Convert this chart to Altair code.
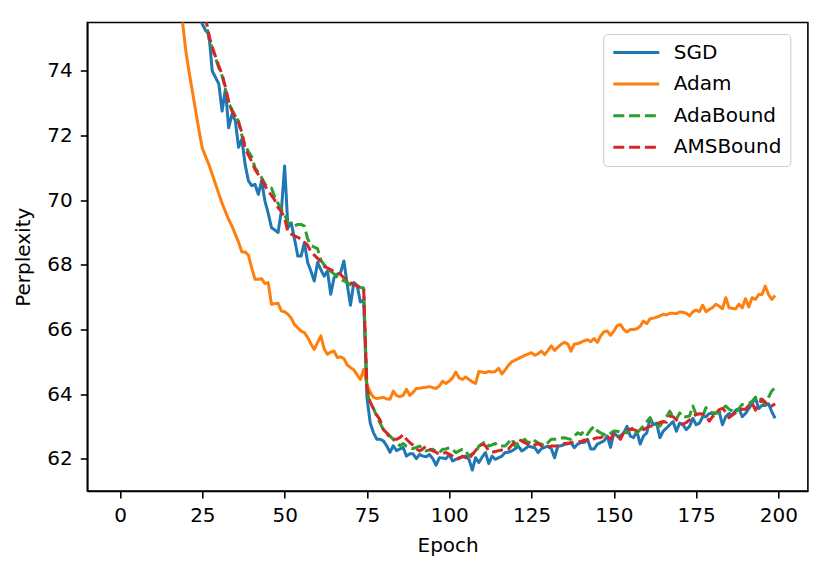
import altair as alt
import pandas as pd

series_names = ["SGD", "Adam", "AdaBound", "AMSBound"]
series_colors = ["#1f77b4", "#ff7f0e", "#2ca02c", "#d62728"]
series_dashes = [[1, 0], [1, 0], [11, 4.8], [11, 4.8]]

x_ticks = [0, 25, 50, 75, 100, 125, 150, 175, 200]
y_ticks = [62, 64, 66, 68, 70, 72, 74]

sgd = [
    178.0, 141.0, 124.0, 113.5, 106.0, 100.5, 96.5, 93.0, 90.2, 88.0,
    86.0, 84.3, 82.8, 81.5, 80.4, 79.4, 78.5, 77.8, 77.2, 76.7,
    76.4, 76.2, 76.0, 75.85, 75.7, 75.45, 75.25, 75.15, 74.0, 73.8,
    73.6, 72.76, 73.43, 72.24, 72.66, 72.47, 71.64, 71.89, 71.1, 70.6,
    70.45, 70.49, 70.18, 70.6, 69.98, 69.6, 69.15, 69.08, 69.0, 69.67,
    71.06, 69.15, 69.3, 68.8, 68.27, 68.27, 68.69, 68.07, 67.8, 67.5,
    68.07, 67.85, 67.65, 67.81, 67.09, 67.6, 67.71, 67.76, 68.12, 67.4,
    66.75, 67.45, 67.37, 66.85, 66.9, 63.9, 63.1, 62.8, 62.6, 62.6,
    62.55, 62.4, 62.2, 62.4, 62.25, 62.3, 62.35, 62.08, 62.15, 62.15,
    62.0, 62.13, 62.08, 62.06, 62.13, 62.0, 61.8, 62.03, 62.02, 62.0,
    62.13, 61.93, 61.98, 62.03, 62.05, 62.08, 61.98, 61.65, 62.03, 61.88,
    62.05, 62.19, 61.85, 62.08, 61.98, 62.03, 62.08, 62.19, 62.2, 62.24,
    62.3, 62.39, 62.24, 62.3, 62.39, 62.36, 62.34, 62.19, 62.31, 62.35,
    62.39, 62.31, 62.03, 62.39, 62.4, 62.44, 62.46, 62.49, 62.34, 62.45,
    62.5, 62.5, 62.6, 62.3, 62.3, 62.45, 62.5, 62.55, 62.7, 62.35,
    62.8, 62.7, 62.7, 62.8, 63.0, 62.7, 62.65, 62.85, 62.45, 62.7,
    62.8, 63.25, 63.05, 63.1, 62.65, 62.85, 62.95, 63.05, 63.15, 62.85,
    63.1, 63.05, 62.9, 63.0, 63.25, 63.05, 63.1, 63.3, 63.3, 63.4,
    63.4, 63.4, 63.45, 63.05, 63.3, 63.4, 63.35, 63.5, 63.55, 63.3,
    63.4, 63.55, 63.7, 63.9, 63.55, 63.65, 63.65, 63.7, 63.45, 63.25,
]

adam = [
    182.0, 131.0, 114.0, 104.5, 98.5, 94.5, 91.2, 88.6, 86.5, 84.8,
    83.3, 82.0, 80.9, 79.9, 79.0, 78.2, 77.5, 76.9, 76.3, 75.5,
    74.6, 73.95, 73.35, 72.75, 72.15, 71.6, 71.35, 71.1, 70.8, 70.5,
    70.2, 69.9, 69.65, 69.4, 69.2, 68.95, 68.7, 68.4, 68.4, 68.3,
    67.9, 67.55, 67.55, 67.57, 67.42, 67.45, 66.78, 66.8, 66.81, 66.57,
    66.55, 66.47, 66.35, 66.15, 66.05, 65.95, 65.9, 65.75, 65.55, 65.38,
    65.6, 65.8, 65.4, 65.23, 65.3, 65.33, 65.13, 65.15, 65.1, 64.9,
    64.82, 64.75, 64.6, 64.45, 64.76, 64.3, 64.05, 63.9, 63.86, 63.88,
    63.9, 63.85, 63.84, 64.09, 63.95, 63.92, 63.96, 64.15, 63.96, 64.05,
    64.17, 64.18, 64.2, 64.21, 64.23, 64.2, 64.17, 64.25, 64.4, 64.33,
    64.4, 64.5, 64.68, 64.5, 64.45, 64.53, 64.45, 64.38, 64.33, 64.7,
    64.68, 64.66, 64.7, 64.68, 64.7, 64.8, 64.62, 64.75, 64.89, 65.0,
    65.05, 65.1, 65.15, 65.2, 65.24, 65.28, 65.2, 65.25, 65.33, 65.22,
    65.35, 65.49, 65.35, 65.45, 65.54, 65.6, 65.55, 65.33, 65.55, 65.56,
    65.6, 65.65, 65.68, 65.62, 65.72, 65.6, 65.8, 65.93, 65.95, 65.82,
    65.95, 66.12, 66.15, 66.0, 65.92, 66.0, 66.0, 66.02, 66.1, 66.26,
    66.18, 66.33, 66.35, 66.38, 66.42, 66.47, 66.45, 66.5, 66.5, 66.49,
    66.54, 66.53, 66.5, 66.42, 66.55, 66.6, 66.55, 66.75, 66.55, 66.62,
    66.68, 66.78, 66.72, 66.64, 66.98, 66.67, 66.65, 66.64, 66.78, 66.67,
    66.95, 66.7, 66.98, 66.93, 67.08, 67.08, 67.34, 67.08, 66.93, 67.05,
]

adabound = [
    190.0, 145.0, 127.0, 116.0, 108.5, 103.0, 98.8, 95.3, 92.4, 90.0,
    88.0, 86.2, 84.6, 83.2, 82.0, 80.9, 79.9, 79.0, 78.3, 77.6,
    77.0, 76.6, 76.3, 76.1, 75.95, 75.8, 75.6, 75.0, 74.7, 74.4,
    74.1, 73.85, 73.45, 73.0, 72.8, 72.6, 72.45, 72.0, 71.7, 71.5,
    71.35, 71.0, 70.85, 70.7, 70.5, 70.4, 70.38, 70.1, 69.9, 69.7,
    69.55, 69.3, 69.25, 69.2, 69.25, 69.25, 69.2, 68.8, 68.6, 68.55,
    68.5, 68.15, 68.0, 67.9, 67.8, 67.72, 67.62, 67.55, 67.5, 67.45,
    67.38, 67.35, 67.33, 67.3, 67.28, 64.1, 63.7, 63.55, 63.3, 63.1,
    62.9, 62.8, 62.7, 62.6, 62.5, 62.4, 62.47, 62.39, 62.35, 62.31,
    62.35, 62.39, 62.3, 62.24, 62.27, 62.29, 62.22, 62.19, 62.29, 62.3,
    62.34, 62.28, 62.19, 62.24, 62.29, 62.24, 62.08, 62.15, 62.19, 62.39,
    62.45, 62.54, 62.39, 62.43, 62.47, 62.39, 62.39, 62.39, 62.5, 62.62,
    62.39, 62.49, 62.55, 62.6, 62.47, 62.6, 62.55, 62.49, 62.45, 62.39,
    62.5, 62.6, 62.6, 62.62, 62.64, 62.65, 62.62, 62.6, 62.7, 62.8,
    62.75, 62.86, 62.75, 62.9, 63.0, 62.86, 62.8, 62.75, 62.7, 62.78,
    62.86, 62.85, 62.83, 62.82, 62.8, 62.9, 62.96, 62.8, 62.9, 63.01,
    63.15, 63.27, 63.06, 63.05, 63.01, 63.16, 63.3, 63.47, 63.3, 63.22,
    63.42, 63.27, 63.3, 63.32, 63.63, 63.37, 63.35, 63.32, 63.58, 63.45,
    63.42, 63.42, 63.42, 63.55, 63.63, 63.53, 63.48, 63.42, 63.55, 63.68,
    63.68, 63.7, 63.78, 63.89, 63.95, 63.78, 63.68, 63.9, 64.1, 64.2,
]

amsbound = [
    186.0, 142.0, 125.5, 115.0, 107.8, 102.5, 98.4, 95.0, 92.2, 89.9,
    87.9, 86.1, 84.5, 83.1, 81.9, 80.8, 79.8, 79.0, 78.3, 77.6,
    77.0, 76.6, 76.3, 76.1, 75.95, 75.85, 75.65, 75.1, 74.75, 74.45,
    74.15, 73.9, 73.5, 73.05, 72.75, 72.6, 72.4, 72.1, 71.6, 71.4,
    71.2, 70.95, 70.8, 70.65, 70.45, 70.28, 70.15, 70.0, 69.77, 69.65,
    69.45, 69.0, 68.95, 68.9, 68.85, 68.8, 68.7, 68.6, 68.4, 68.3,
    68.2, 68.1, 67.95, 67.9, 67.85, 67.8, 67.75, 67.7, 67.6, 67.55,
    67.45, 67.38, 67.35, 67.3, 67.28, 64.2, 63.75, 63.55, 63.35, 63.2,
    62.9, 62.8, 62.65, 62.6, 62.6, 62.65, 62.75, 62.6, 62.5, 62.42,
    62.3, 62.24, 62.3, 62.39, 62.3, 62.24, 62.2, 62.13, 62.16, 62.19,
    62.14, 62.08, 62.0, 62.0, 62.08, 62.03, 61.98, 62.13, 62.25, 62.39,
    62.45, 62.4, 62.24, 62.2, 62.22, 62.25, 62.27, 62.28, 62.3, 62.42,
    62.52, 62.6, 62.55, 62.49, 62.45, 62.39, 62.43, 62.47, 62.4, 62.34,
    62.36, 62.39, 62.39, 62.39, 62.42, 62.47, 62.48, 62.49, 62.52, 62.54,
    62.52, 62.58, 62.57, 62.55, 62.62, 62.65, 62.65, 62.72, 62.68, 62.6,
    62.78, 62.72, 62.6, 62.8, 62.91, 62.91, 62.9, 62.86, 62.86, 62.9,
    62.96, 63.0, 63.03, 63.06, 63.12, 63.15, 63.13, 63.32, 63.3, 63.2,
    63.09, 63.07, 63.12, 63.2, 63.3, 63.37, 63.39, 63.38, 63.32, 63.16,
    63.3, 63.4, 63.52, 63.56, 63.45, 63.27, 63.35, 63.42, 63.5, 63.53,
    63.53, 63.65, 63.73, 63.5, 63.7, 63.84, 63.75, 63.63, 63.63, 63.7,
]

all_series = [sgd, adam, adabound, amsbound]
for s in all_series:
    assert len(s) == 200, len(s)

rows = []
for name, vals in zip(series_names, all_series):
    for epoch, v in enumerate(vals):
        rows.append({"Epoch": epoch, "Perplexity": v, "Optimizer": name})
df = pd.DataFrame(rows)

FONT = "DejaVu Sans"

legend = alt.Legend(
    title=None,
    orient="none",
    legendX=516,
    legendY=11.5,
    symbolType="stroke",
    symbolSize=2116,
    symbolStrokeWidth=3,
    clipHeight=20,
    labelFontSize=20,
    labelFont=FONT,
    labelColor="black",
    labelOffset=13,
    padding=8.5,
    rowPadding=11.6,
    strokeColor="#cccccc",
    fillColor="white",
    cornerRadius=4,
    labelLimit=400,
)

chart = (
    alt.Chart(df)
    .mark_line(clip=True, strokeWidth=3, strokeJoin="round")
    .encode(
        x=alt.X(
            "Epoch:Q",
            scale=alt.Scale(domain=[-9.95, 208.95], nice=False, zero=False),
            axis=alt.Axis(
                values=x_ticks,
                format="d",
                title="Epoch",
                grid=False,
                tickSize=7,
                tickWidth=1.6,
                tickColor="black",
                domainColor="black",
                domainWidth=1.6,
                labelFontSize=20,
                labelFont=FONT,
                labelColor="black",
                labelPadding=8,
                titleFontSize=20,
                titleFont=FONT,
                titleFontWeight="normal",
                titleColor="black",
                titlePadding=10,
            ),
        ),
        y=alt.Y(
            "Perplexity:Q",
            scale=alt.Scale(domain=[61.0, 75.5], nice=False, zero=False),
            axis=alt.Axis(
                values=y_ticks,
                format="d",
                title="Perplexity",
                grid=False,
                tickSize=7,
                tickWidth=1.6,
                tickColor="black",
                domainColor="black",
                domainWidth=1.6,
                labelFontSize=20,
                labelFont=FONT,
                labelColor="black",
                labelPadding=8,
                titleFontSize=20,
                titleFont=FONT,
                titleFontWeight="normal",
                titleColor="black",
                titlePadding=13,
            ),
        ),
        color=alt.Color(
            "Optimizer:N",
            sort=series_names,
            scale=alt.Scale(domain=series_names, range=series_colors),
            legend=legend,
        ),
        strokeDash=alt.StrokeDash(
            "Optimizer:N",
            sort=series_names,
            scale=alt.Scale(domain=series_names, range=series_dashes),
            legend=legend,
        ),
    )
    .properties(
        width=720.6,
        height=468.5,
        autosize=alt.AutoSizeParams(type="none"),
        padding={"left": 79.3, "top": 14.5, "right": 15, "bottom": 70},
    )
    .configure(font=FONT, background="white")
    .configure_view(stroke="black", strokeWidth=1.6)
)

chart.save("out.html", embed_options={"renderer": "svg", "actions": False})
